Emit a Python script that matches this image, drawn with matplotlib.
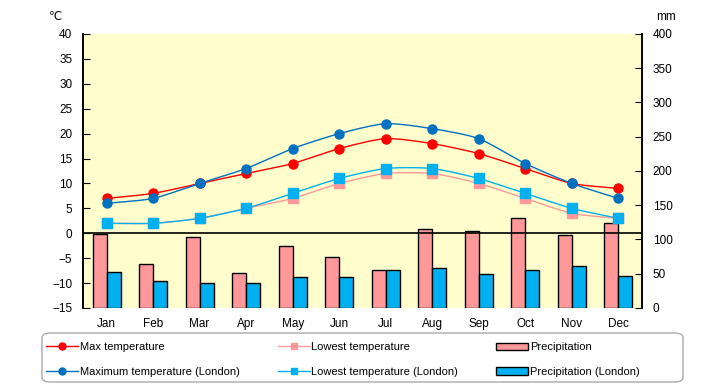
import numpy as np
import matplotlib
matplotlib.use("Agg")
import matplotlib.pyplot as plt
from matplotlib.lines import Line2D
from matplotlib.patches import Patch, FancyBboxPatch

plt.rcParams['font.family'] = ['Liberation Sans', 'DejaVu Sans']

months = ["Jan", "Feb", "Mar", "Apr", "May", "Jun", "Jul", "Aug", "Sep", "Oct", "Nov", "Dec"]
max_temp = [7, 8, 10, 12, 14, 17, 19, 18, 16, 13, 10, 9]
low_temp = [2, 2, 3, 5, 7, 10, 12, 12, 10, 7, 4, 3]
max_temp_london = [6, 7, 10, 13, 17, 20, 22, 21, 19, 14, 10, 7]
low_temp_london = [2, 2, 3, 5, 8, 11, 13, 13, 11, 8, 5, 3]
precip = [108, 64, 103, 51, 90, 75, 56, 115, 113, 131, 106, 124]
precip_london = [52, 39, 36, 37, 45, 45, 55, 58, 49, 56, 62, 46]


def smooth(x, y, n=20, k=0.35):
    # gentle cardinal spline through the points, for drawing only
    x = np.asarray(x, float)
    y = np.asarray(y, float)
    px = np.concatenate([[2 * x[0] - x[1]], x, [2 * x[-1] - x[-2]]])
    py = np.concatenate([[2 * y[0] - y[1]], y, [2 * y[-1] - y[-2]]])
    xs, ys = [], []
    t = np.linspace(0, 1, n, endpoint=False)
    h00 = 2 * t ** 3 - 3 * t ** 2 + 1
    h10 = t ** 3 - 2 * t ** 2 + t
    h01 = -2 * t ** 3 + 3 * t ** 2
    h11 = t ** 3 - t ** 2
    for i in range(1, len(px) - 2):
        for p, out in ((px, xs), (py, ys)):
            m1 = k * (p[i + 1] - p[i - 1])
            m2 = k * (p[i + 2] - p[i])
            out.extend(h00 * p[i] + h10 * m1 + h01 * p[i + 1] + h11 * m2)
    xs.append(x[-1])
    ys.append(y[-1])
    return xs, ys


x = np.arange(len(months))

fig = plt.figure(figsize=(7.2, 3.85), dpi=100)
ax2 = fig.add_axes([0.1157, 0.2, 0.7753, 0.7117])
ax = ax2.twinx()
ax.set_zorder(ax2.get_zorder() + 1)
ax.patch.set_visible(False)
ax2.set_facecolor('#FFFDCB')

# temperature on the left, precipitation on the right
ax.yaxis.set_label_position('left')
ax.yaxis.tick_left()
ax2.yaxis.set_label_position('right')
ax2.yaxis.tick_right()

w = 0.3
ax2.bar(x - w / 2, precip, w, color='#FF9999', edgecolor='black', linewidth=1)
ax2.bar(x + w / 2, precip_london, w, color='#00B0F0', edgecolor='black', linewidth=1)
ax2.set_ylim(0, 400)
ax2.set_yticks(range(0, 401, 50))

ax.axhline(0, color='black', linewidth=1.2, zorder=1)
series = [
    (low_temp, '#FF9999', 's'),
    (low_temp_london, '#00B0F0', 's'),
    (max_temp, '#FF0000', 'o'),
    (max_temp_london, '#0070C0', 'o'),
]
for vals, col, mk in series:
    sx, sy = smooth(x, vals)
    ax.plot(sx, sy, color=col, linewidth=1, zorder=2)
    ax.plot(x, vals, linestyle='none', marker=mk, color=col, markersize=6.5, zorder=3)
ax.set_ylim(-15, 40)
ax.set_yticks(range(-15, 41, 5))
ax.set_xlim(-0.5, 11.5)
ax2.set_xlim(-0.5, 11.5)
ax2.set_xticks(x)
ax2.set_xticklabels(months)

for a in (ax, ax2):
    a.spines['top'].set_visible(False)
    a.spines['bottom'].set_visible(False)
    a.spines['left'].set_linewidth(1.2)
    a.spines['right'].set_linewidth(1.2)
ax.tick_params(axis='y', direction='in', length=5, labelsize=8.5, pad=8)
ax2.tick_params(axis='y', direction='in', length=5, labelsize=8.5, pad=8)
ax2.tick_params(axis='x', length=0, labelsize=8.5, pad=7)

fig.text(0.068, 0.955, '℃', fontsize=8.5, ha='left', va='center')
fig.text(0.925, 0.955, 'mm', fontsize=8.5, ha='center', va='center')

# legend box
box = FancyBboxPatch((42 / 720, 3 / 385), 641 / 720, 49 / 385,
                     boxstyle='round,pad=0,rounding_size=0.012',
                     transform=fig.transFigure, facecolor='white',
                     edgecolor='#AAAAAA', linewidth=1)
fig.patches.append(box)

handles = [
    Line2D([], [], color='#FF0000', marker='o', markersize=5, linewidth=1),
    Line2D([], [], color='#0070C0', marker='o', markersize=5, linewidth=1),
    Line2D([], [], color='#FF9999', marker='s', markersize=5, linewidth=1),
    Line2D([], [], color='#00B0F0', marker='s', markersize=5, linewidth=1),
    Patch(facecolor='#FF9999', edgecolor='black'),
    Patch(facecolor='#00B0F0', edgecolor='black'),
]
labels = ['Max temperature', 'Maximum temperature (London)',
          'Lowest temperature', 'Lowest temperature (London)',
          'Precipitation', 'Precipitation (London)']
leg = fig.legend(handles, labels, ncol=3, loc='center left',
                 bbox_to_anchor=(46 / 720, 25.5 / 385),
                 fontsize=8, frameon=False,
                 handlelength=2.9, handletextpad=0.15, borderaxespad=0,
                 labelspacing=1.3, borderpad=0, columnspacing=3.4)

fig.savefig('out.png', dpi=100)
